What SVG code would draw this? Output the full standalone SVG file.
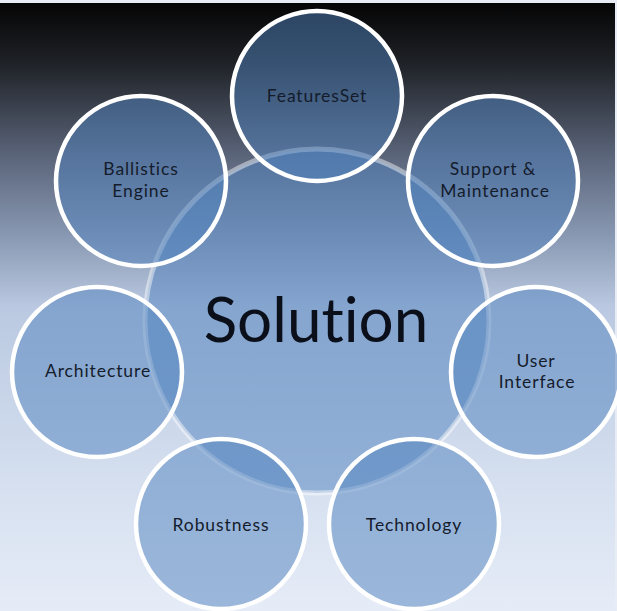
<svg xmlns="http://www.w3.org/2000/svg" width="617" height="611" viewBox="0 0 617 611">
<defs>
<linearGradient id="bg" x1="0" y1="3" x2="0" y2="611" gradientUnits="userSpaceOnUse">
<stop offset="0" stop-color="#050505"/>
<stop offset="0.1" stop-color="#1f2227"/>
<stop offset="0.25" stop-color="#5a6479"/>
<stop offset="0.37" stop-color="#8493ad"/>
<stop offset="0.5" stop-color="#bac9e1"/>
<stop offset="0.8" stop-color="#d6e0f0"/>
<stop offset="1" stop-color="#e6ecf7"/>
</linearGradient>
<style>
.node{fill:#4f81bd;fill-opacity:0.5;stroke:#ffffff;stroke-width:4.5}
.center{fill:#4f81bd;fill-opacity:0.5;stroke:#ffffff;stroke-opacity:0.45;stroke-width:5}
.lbl{font-family:Lato,"Open Sans","Liberation Sans",sans-serif;font-size:17.5px;letter-spacing:0.9px;fill:#141c2c;text-anchor:middle;font-variant-ligatures:none;font-feature-settings:"liga" 0}
.big{font-family:Lato,"Open Sans","Liberation Sans",sans-serif;font-size:62px;fill:#0a0f1a;text-anchor:middle;font-variant-ligatures:none;font-feature-settings:"liga" 0}
</style>
</defs>
<rect x="0" y="0" width="617" height="611" fill="#e8ecf4"/>
<rect x="0" y="3" width="615" height="608" fill="url(#bg)"/>
<g id="solution">
<circle class="center" cx="317" cy="321" r="172"/>
<text class="big" x="316" y="342">Solution</text>
</g>
<g id="connectors"></g>
<g id="featuresset">
<circle class="node" cx="317" cy="96" r="85"/>
<text class="lbl" x="317" y="102">FeaturesSet</text>
</g>
<g id="support">
<circle class="node" cx="493" cy="181" r="85"/>
<text class="lbl" x="493" y="175">Support &amp;</text>
<text class="lbl" x="495" y="197">Maintenance</text>
</g>
<g id="userinterface">
<circle class="node" cx="536" cy="372" r="85"/>
<text class="lbl" x="536" y="367">User</text>
<text class="lbl" x="537" y="388">Interface</text>
</g>
<g id="technology">
<circle class="node" cx="414" cy="524" r="85"/>
<text class="lbl" x="414" y="531">Technology</text>
</g>
<g id="robustness">
<circle class="node" cx="221" cy="524" r="85"/>
<text class="lbl" x="221" y="531">Robustness</text>
</g>
<g id="architecture">
<circle class="node" cx="97" cy="372" r="85"/>
<text class="lbl" x="98" y="377">Architecture</text>
</g>
<g id="ballistics">
<circle class="node" cx="141" cy="181" r="85"/>
<text class="lbl" x="141" y="175">Ballistics</text>
<text class="lbl" x="141" y="197">Engine</text>
</g>
</svg>
